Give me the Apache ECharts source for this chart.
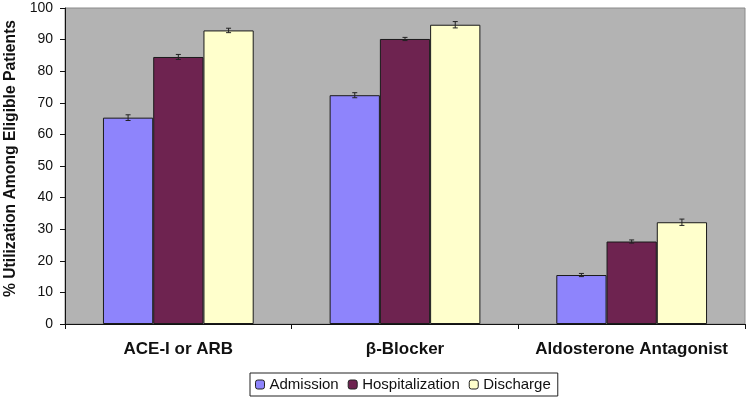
<!DOCTYPE html>
<html>
<head>
<meta charset="utf-8">
<script src="https://cdn.jsdelivr.net/npm/echarts@6/dist/echarts.min.js"></script>
<style>html,body{margin:0;padding:0;background:#fff;}#c{width:747px;height:400px;}</style>
</head>
<body>
<div id="c"></div>
<script>
var categories = ['ACE-I or ARB', 'β-Blocker', 'Aldosterone Antagonist'];
var seriesNames = ['Admission', 'Hospitalization', 'Discharge'];
var admission = [65.3, 72.4, 15.5];
var hospitalization = [84.5, 90.2, 26.1];
var discharge = [92.9, 94.7, 32.2];
var admissionErr = [0.9, 0.8, 0.5];
var hospitalizationErr = [0.8, 0.5, 0.5];
var dischargeErr = [0.7, 1.0, 1.0];
var yTicks = [0, 10, 20, 30, 40, 50, 60, 70, 80, 90, 100];

var colors = ['#8e84fc', '#6e2350', '#ffffcc'];
var values = [admission, hospitalization, discharge];
var errs = [admissionErr, hospitalizationErr, dischargeErr];
var catGap = 0.335;

var series = [];
seriesNames.forEach(function (n, i) {
  series.push({
    name: n, type: 'bar', data: values[i], barGap: '0%', barCategoryGap: (catGap * 100) + '%',
    itemStyle: { color: colors[i], borderColor: '#1a1a1a', borderWidth: 1 }
  });
});
var errData = [];
values.forEach(function (arr, s) {
  arr.forEach(function (v, c) { errData.push([c, v, errs[s][c], s]); });
});
series.push({
  type: 'custom', z: 10, silent: true, data: errData,
  renderItem: function (params, api) {
    var c = api.value(0), v = api.value(1), e = api.value(2), s = api.value(3);
    var band = api.size([1, 0])[0];
    var bw = band * (1 - catGap) / 3;
    var top = api.coord([c, v + e]);
    var bot = api.coord([c, v - e]);
    var x = top[0] + (s - 1) * bw;
    var st = { stroke: '#222', lineWidth: 1 };
    return { type: 'group', children: [
      { type: 'line', shape: { x1: x, y1: top[1], x2: x, y2: bot[1] }, style: st },
      { type: 'line', shape: { x1: x - 2.5, y1: top[1], x2: x + 2.5, y2: top[1] }, style: st },
      { type: 'line', shape: { x1: x - 2.5, y1: bot[1], x2: x + 2.5, y2: bot[1] }, style: st }
    ]};
  }
});

var chart = echarts.init(document.getElementById('c'));
chart.setOption({
  animation: false,
  textStyle: { fontFamily: 'Liberation Sans, Arial, sans-serif' },
  grid: { left: 65, right: 2, top: 8, bottom: 76, outerBoundsMode: 'none', containLabel: false,
    show: true, backgroundColor: '#b3b3b3', borderColor: '#8a8a8a', borderWidth: 1 },
  legend: {
    data: seriesNames, top: 373, left: 250, itemWidth: 9, itemHeight: 9, itemGap: 9,
    padding: [4, 7, 4, 5], borderColor: '#222', borderWidth: 1, backgroundColor: '#fff',
    textStyle: { fontSize: 15, color: '#111' },
    itemStyle: { borderColor: '#222', borderWidth: 1 }
  },
  xAxis: {
    type: 'category', data: categories,
    axisLine: { lineStyle: { color: '#111', width: 1 } },
    axisTick: { show: true, length: 5, lineStyle: { color: '#111' } },
    axisLabel: { interval: 0, hideOverlap: false, fontSize: 17, fontWeight: 'bold', color: '#111', margin: 17 }
  },
  yAxis: {
    type: 'value', min: 0, max: 100, interval: 10,
    name: '% Utilization Among Eligible Patients', nameLocation: 'middle', nameGap: 46,
    nameTextStyle: { fontSize: 15.7, fontWeight: 'bold', color: '#111', padding: [0, 0, 0, 15] },
    axisLine: { show: true, lineStyle: { color: '#111', width: 1 } },
    axisTick: { show: true, length: 5, lineStyle: { color: '#111' } },
    axisLabel: { fontSize: 14, color: '#111', margin: 12, formatter: function (v) { return yTicks.indexOf(v) >= 0 ? String(v) : ''; } },
    splitLine: { show: false }
  },
  series: series
});
</script>
</body>
</html>
